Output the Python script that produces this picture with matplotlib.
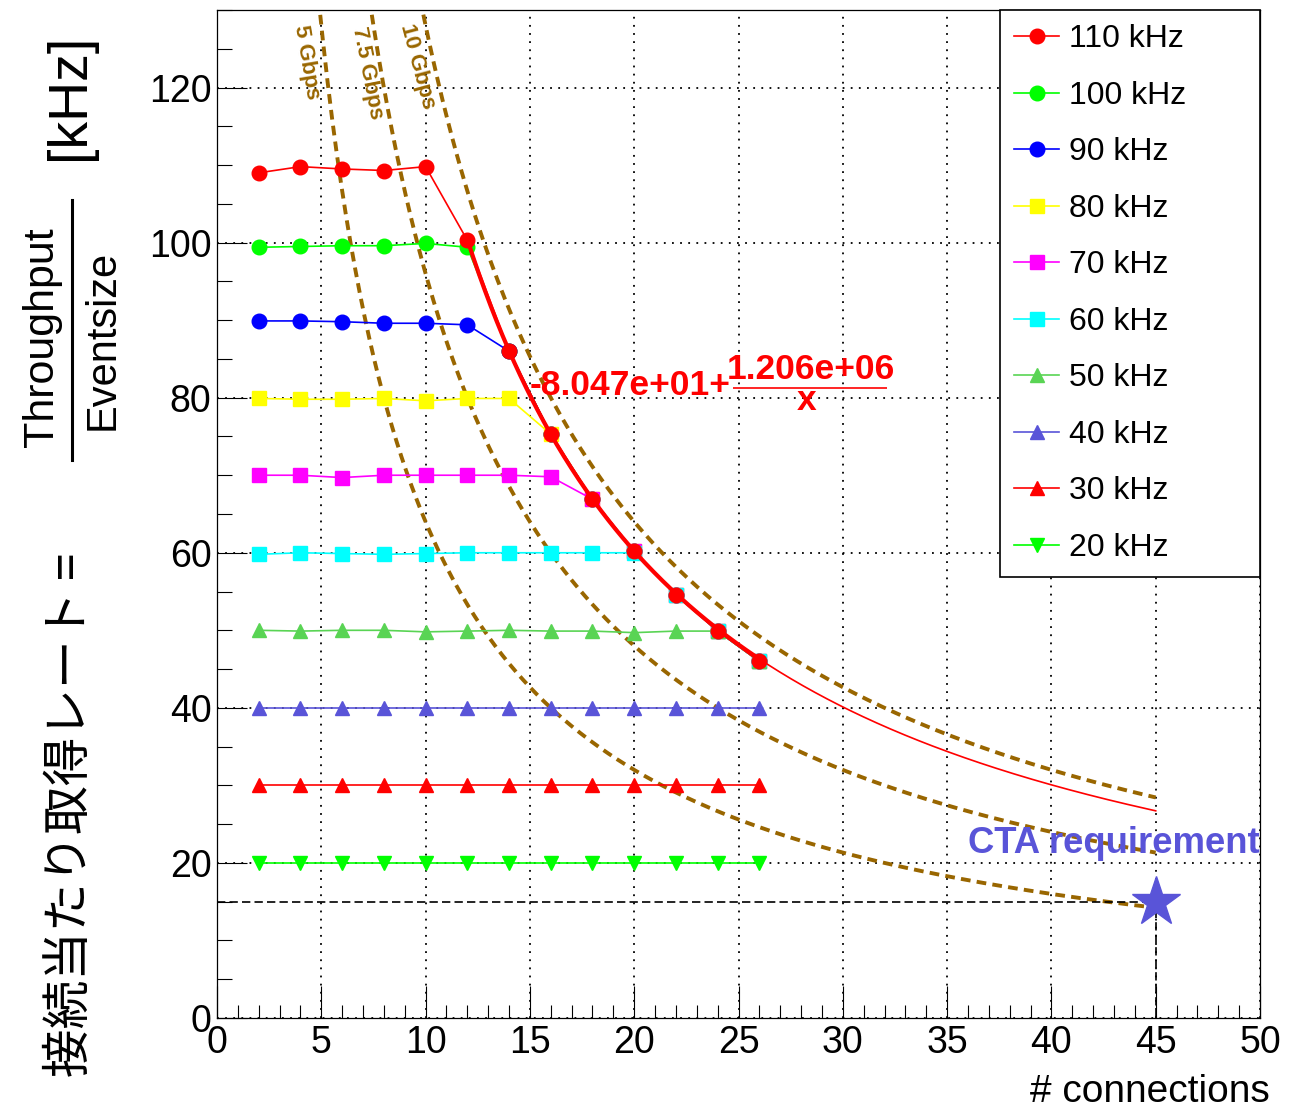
import numpy as np
import matplotlib.pyplot as plt

W, H = 1305, 1108

plt.rcParams['font.family'] = ['Liberation Sans', 'Noto Sans CJK JP', 'DejaVu Sans']

# number of connections
connections = [2, 4, 6, 8, 10, 12, 14, 16, 18, 20, 22, 24, 26]

# measured acquisition rate per connection [kHz], one list per input rate
rate_110 = [109.0, 109.8, 109.5, 109.3, 109.8, 100.3, 86.0, 75.3, 66.9, 60.2, 54.6, 49.9, 46.0]
err_110 = [0.8, 0.2, 0.2, 0.2, 0.2, 0.2, 0.2, 0.2, 0.2, 0.2, 0.2, 0.2, 0.2]
rate_100 = [99.4, 99.5, 99.6, 99.6, 99.9, 99.4, 86.0, 75.3, 66.9, 60.2, 54.6, 49.9, 46.0]
rate_90 = [89.9, 89.9, 89.8, 89.6, 89.6, 89.4, 86.0, 75.3, 66.9, 60.2, 54.6, 49.9, 46.0]
rate_80 = [79.9, 79.8, 79.8, 79.9, 79.6, 79.9, 79.9, 75.3, 66.9, 60.2, 54.6, 49.9, 46.0]
rate_70 = [70.0, 70.0, 69.7, 70.0, 70.0, 70.0, 70.0, 69.8, 66.9, 60.2, 54.6, 49.9, 46.0]
rate_60 = [59.8, 60.0, 59.9, 59.8, 59.9, 60.0, 60.0, 60.0, 60.0, 60.0, 54.6, 49.9, 46.0]
rate_50 = [50.0, 49.9, 50.0, 50.0, 49.8, 49.9, 50.0, 49.9, 49.9, 49.7, 49.9, 49.9, 46.0]
rate_40 = [40.0, 40.0, 40.0, 40.0, 40.0, 40.0, 40.0, 40.0, 40.0, 40.0, 40.0, 40.0, 40.0]
rate_30 = [30.0, 30.0, 30.0, 30.0, 30.0, 30.0, 30.0, 30.0, 30.0, 30.0, 30.0, 30.0, 30.0]
rate_20 = [20.0, 20.0, 20.0, 20.0, 20.0, 20.0, 20.0, 20.0, 20.0, 20.0, 20.0, 20.0, 20.0]

labels = ['110 kHz', '100 kHz', '90 kHz', '80 kHz', '70 kHz',
          '60 kHz', '50 kHz', '40 kHz', '30 kHz', '20 kHz']
rates = [rate_110, rate_100, rate_90, rate_80, rate_70,
         rate_60, rate_50, rate_40, rate_30, rate_20]
colors = ['#ff0000', '#00ff00', '#0000ff', '#ffff00', '#ff00ff',
          '#00ffff', '#59d454', '#5954d8', '#ff0000', '#00ff00']
markers = ['o', 'o', 'o', 's', 's', 's', '^', '^', '^', 'v']

# fit: p0 + p1/x  (Hz) -> shown in kHz
fit_p0 = -80.47
fit_p1 = 1.206e6
fit_start, fit_end, fit_far = 12, 26, 45

# network bandwidth limits
gbps = [5, 7.5, 10]
gbps_labels = ['5 Gbps', '7.5 Gbps', '10 Gbps']
khz_per_gbps = 128.0
gbps_label_pos = [(4.27, 123.2), (7.19, 121.9), (9.59, 122.7)]
gbps_label_rot = [-80.5, -79, -75]

# CTA requirement
req_conn = 45
req_rate = 15

brown = '#996600'
cta_col = '#5954d8'

fig = plt.figure(figsize=(W / 100, H / 100), dpi=100)
ax = fig.add_axes([217 / W, 1 - 1018 / H, (1260 - 217) / W, (1018 - 10) / H])

ax.set_xlim(0, 50)
ax.set_ylim(0, 130)
ax.set_axisbelow(True)
ax.grid(True, which='major', color='black', linestyle=(0, (1, 3.5)), linewidth=1.3)

# bandwidth curves
xc = np.linspace(1, 45, 400)
for g, lab, pos, rot in zip(gbps, gbps_labels, gbps_label_pos, gbps_label_rot):
    ax.plot(xc, g * khz_per_gbps / xc, color=brown, linestyle=(0, (2.5, 1.6)),
            linewidth=2.8, zorder=2)
    ax.text(pos[0], pos[1], lab, rotation=rot, rotation_mode='anchor',
            ha='center', va='center', color=brown, fontsize=16,
            fontweight='bold', zorder=7)

# requirement guide lines
ax.plot([0, req_conn], [req_rate, req_rate], color='black',
        linestyle=(0, (5, 2.5)), linewidth=1.2, zorder=2)
ax.plot([req_conn, req_conn], [0, req_rate], color='black',
        linestyle=(0, (5, 2.5)), linewidth=1.2, zorder=2)

# measured series
for i, (lab, r, c, m) in enumerate(zip(labels, rates, colors, markers)):
    z = 5 if i == 0 else 3 + i * 0.01
    ms = 10.5 if m in ('o', '^', 'v') else 10
    ax.plot(connections, r, color=c, marker=m, markersize=ms, linewidth=1.2,
            label=lab, zorder=z)
ax.errorbar(connections, rate_110, yerr=err_110, fmt='none', ecolor='#ff0000',
            elinewidth=1.2, zorder=5)

# fit curve
xf = np.linspace(fit_start, fit_end, 200)
ax.plot(xf, (fit_p0 + fit_p1 / xf) / 1000, color='#ff0000', linewidth=3.0, zorder=6)
xf2 = np.linspace(fit_end, fit_far, 200)
ax.plot(xf2, (fit_p0 + fit_p1 / xf2) / 1000, color='#ff0000', linewidth=1.2, zorder=6)

# fit formula
ax.text(15.0, 80.3, '-8.047e+01+', color='#ff0000', fontsize=25.5,
        fontweight='bold', ha='left', va='baseline', zorder=7)
ax.text(24.45, 82.4, '1.206e+06', color='#ff0000', fontsize=25.5,
        fontweight='bold', ha='left', va='baseline', zorder=7)
ax.hlines(81.3, 24.74, 32.1, color='#ff0000', linewidth=1.2, zorder=7)
ax.text(28.25, 78.35, 'x', color='#ff0000', fontsize=25.5,
        fontweight='bold', ha='center', va='baseline', zorder=7)

# requirement marker
ax.plot([req_conn], [req_rate], marker='*', markersize=37, color=cta_col,
        linestyle='none', zorder=8)
ax.text(50, 21.3, 'CTA requirement', color=cta_col, fontsize=26.3,
        fontweight='bold', ha='right', va='baseline', zorder=8)

# ticks
ax.set_xticks(np.arange(0, 51, 5))
ax.set_xticks(np.arange(0, 51, 1), minor=True)
ax.set_yticks(np.arange(0, 121, 20))
ax.set_yticks(np.arange(0, 131, 5), minor=True)
ax.tick_params(axis='both', which='both', direction='in', top=False, right=False,
               width=0.8, labelsize=27)
ax.tick_params(axis='x', which='major', length=23, pad=5)
ax.tick_params(axis='x', which='minor', length=9.4)
ax.tick_params(axis='y', which='major', length=21.6, pad=4)
ax.tick_params(axis='y', which='minor', length=10.8)
for s in ax.spines.values():
    s.set_linewidth(0.9)

leg = ax.legend(loc='upper left', bbox_to_anchor=(783 / 1043, 0.4375, 260 / 1043, 0.5625),
                mode='expand', borderaxespad=0, fontsize=23, frameon=True,
                fancybox=False, edgecolor='black', framealpha=1,
                handlelength=1.4, handletextpad=0.3, borderpad=0.45,
                labelspacing=0.83)
leg.get_frame().set_linewidth(1.2)
leg.set_zorder(10)

# axis titles
fig.text(1270 / W, 1 - 1102 / H, '# connections', fontsize=28,
         ha='right', va='baseline')

fig.text(70 / W, 1 - 815 / H, '接続当たり取得レート =', rotation=90,
         fontsize=35, ha='center', va='center',
         family=['Noto Sans CJK JP', 'DejaVu Sans'])
fig.text(42 / W, 1 - 337 / H, 'Throughput', rotation=90, fontsize=31,
         ha='center', va='center')
fig.text(103 / W, 1 - 340 / H, 'Eventsize', rotation=90, fontsize=30,
         ha='center', va='center')
fig.add_artist(plt.Line2D([72 / W, 72 / W], [1 - 200 / H, 1 - 460 / H],
                          color='black', linewidth=2.2))
fig.text(70 / W, 1 - 97 / H, '[kHz]', rotation=90, fontsize=40,
         ha='center', va='center')

fig.savefig('out.png', dpi=100)
